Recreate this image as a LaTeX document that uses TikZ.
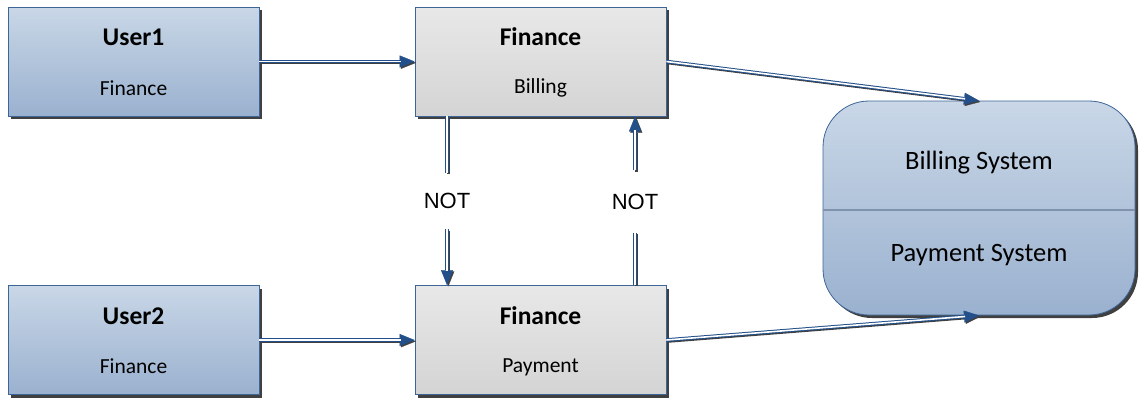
\documentclass[tikz,border=0pt]{standalone}
\usepackage{fontspec}
\setmainfont{Carlito}
\newfontfamily\notfont{Liberation Sans}
\usetikzlibrary{arrows.meta,shadows}

\definecolor{blueTop}{HTML}{C9D7E7}
\definecolor{blueBot}{HTML}{9AB1CF}
\definecolor{grayTop}{HTML}{E8E8E8}
\definecolor{grayBot}{HTML}{D4D4D4}
\definecolor{edgeblue}{HTML}{3D6597}
\definecolor{wireblue}{HTML}{23508A}
\definecolor{shade}{HTML}{404040}
\definecolor{sepgray}{HTML}{7F93AD}

\tikzset{
  box/.style={draw=edgeblue, line width=0.8pt, inner sep=0pt,
    minimum width=251pt, minimum height=109pt,
    drop shadow={shadow xshift=3pt, shadow yshift=-3pt, fill=shade, opacity=1}},
  userbox/.style={box, top color=blueTop, bottom color=blueBot},
  rolebox/.style={box, top color=grayTop, bottom color=grayBot},
  sysbox/.style={box, rounded corners=46pt, minimum width=312pt, minimum height=214pt,
    top color=blueTop, bottom color=blueBot},
  title/.style={anchor=base, inner sep=0pt, font=\bfseries\fontsize{25.5}{25.5}\selectfont},
  sub/.style={anchor=base, inner sep=0pt, font=\fontsize{21.5}{21.5}\selectfont},
  systext/.style={anchor=base, inner sep=0pt, font=\fontsize{26.5}{26.5}\selectfont},
  nottext/.style={inner sep=0pt, font=\notfont\fontsize{22}{22}\selectfont},
  tip/.style={-{Triangle[length=15pt,width=12pt,line width=0.3pt]}},
  wireshadow/.style={draw=shade, line width=3pt,
    transform canvas={shift={(1.3pt,-1.3pt)}}},
  wireouter/.style={draw=wireblue, line width=3.6pt},
  wirecore/.style={draw=white, line width=1.6pt},
  sepline/.style={draw=sepgray, line width=1.6pt},
}

% connector drawn as a blue double line with a shadow, ending in a filled tip
\newcommand\arrowlink[2]{%
  \draw[wireshadow,tip] #1 -- #2;
  \draw[wireouter,tip] #1 -- #2;
  \draw[wirecore,shorten >=14pt] #1 -- #2;}
% the same line without a tip
\newcommand\plainlink[2]{%
  \draw[wireshadow] #1 -- #2;
  \draw[wireouter] #1 -- #2;
  \draw[wirecore] #1 -- #2;}

\begin{document}
\begin{tikzpicture}[x=1pt, y=-1pt]
\useasboundingbox (0,0) rectangle (1139,399);

% boxes
\node[userbox] (u1) at (133.5,61.5) {};
\node[rolebox] (bill) at (540.5,61.5) {};
\node[userbox] (u2) at (133.5,340) {};
\node[rolebox] (pay) at (540.5,340) {};
\node[sysbox] (sys) at (979,208) {};
\draw[sepline] ([yshift=-2pt]sys.west) -- ([yshift=-2pt]sys.east);

% box texts
\node[title] (u1t) at ([yshift=15.8pt]u1.center) {User1};
\node[sub] (u1s) at ([yshift=-33.5pt]u1.center) {Finance};
\node[title] (bt) at ([yshift=15.8pt]bill.center) {Finance};
\node[sub] (bs) at ([yshift=-32pt]bill.center) {Billing};
\node[title] (u2t) at ([yshift=15.8pt]u2.center) {User2};
\node[sub] (u2s) at ([yshift=-33.5pt]u2.center) {Finance};
\node[title] (pt) at ([yshift=15.8pt]pay.center) {Finance};
\node[sub] (ps) at ([yshift=-32.3pt]pay.center) {Payment};
\node[systext] (st1) at ([yshift=38.7pt]sys.center) {Billing System};
\node[systext] (st2) at ([yshift=-53.7pt]sys.center) {Payment System};

% labels that interrupt the vertical connectors
\node[nottext, minimum height=56pt] (notL) at (447,201) {NOT};
\node[nottext, minimum height=62pt] (notR) at (635,201.5) {NOT};

% connectors
\arrowlink{(u1.east)}{(bill.west)}
\arrowlink{(u2.east)}{(pay.west)}
\arrowlink{(bill.east)}{(sys.north)}
\arrowlink{(pay.east)}{(sys.south)}
\plainlink{(notL.north |- bill.south)}{(notL.north)}
\arrowlink{(notL.south)}{(notL.south |- pay.north)}
\plainlink{(notR.south |- pay.north)}{(notR.south)}
\arrowlink{(notR.north)}{(notR.north |- bill.south)}
\end{tikzpicture}
\end{document}
